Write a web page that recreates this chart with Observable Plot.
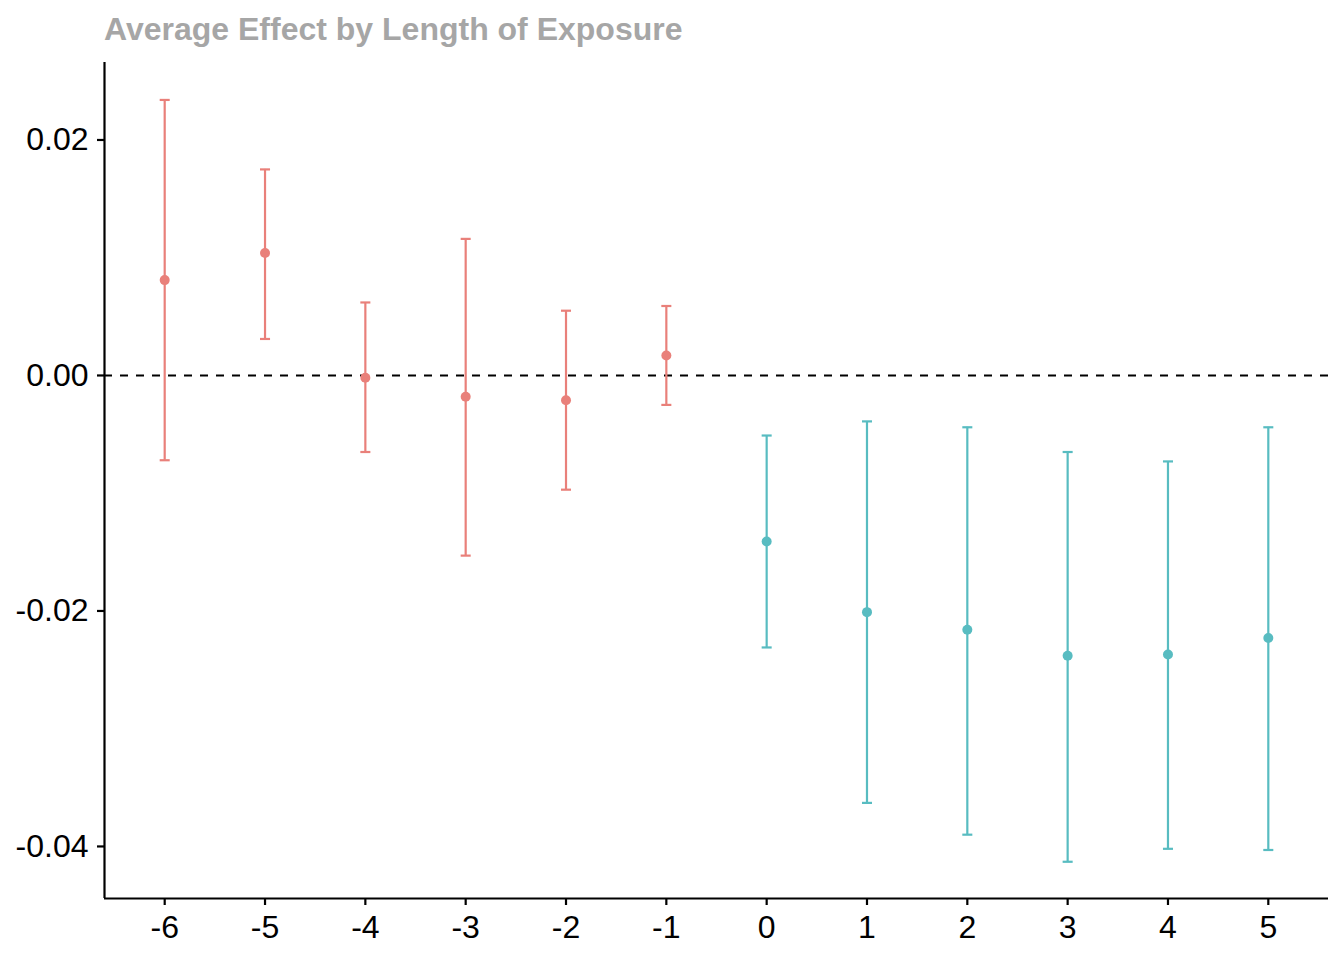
<!DOCTYPE html>
<html>
<head>
<meta charset="utf-8">
<script src="https://cdn.jsdelivr.net/npm/d3@7"></script>
<script src="https://cdn.jsdelivr.net/npm/@observablehq/plot@0.6"></script>
<style>
  html, body { margin: 0; padding: 0; background: #fff; }
  #title { height: 50px; box-sizing: border-box; padding-top: 13px; padding-left: 104px;
    font-family: "Liberation Sans", Arial, sans-serif; font-weight: bold; font-size: 32px;
    line-height: 32px; color: #A6A6A6; white-space: nowrap; }
</style>
</head>
<body>
<div id="title">Average Effect by Length of Exposure</div>
<div id="chart"></div>
<script>
const periods  = [-6, -5, -4, -3, -2, -1, 0, 1, 2, 3, 4, 5];
const estimate = [0.0081, 0.0104, -0.0002, -0.0018, -0.0021, 0.0017, -0.0141, -0.0201, -0.0216, -0.0238, -0.0237, -0.0223];
const upper    = [0.0234, 0.0175, 0.0062, 0.0116, 0.0055, 0.0059, -0.0051, -0.0039, -0.0044, -0.0065, -0.0073, -0.0044];
const lower    = [-0.0072, 0.0031, -0.0065, -0.0153, -0.0097, -0.0025, -0.0231, -0.0363, -0.0390, -0.0413, -0.0402, -0.0403];
const phase    = ["pre","pre","pre","pre","pre","pre","post","post","post","post","post","post"];
const xTicks = periods;
const yTicks = [-0.04, -0.02, 0, 0.02];
const xDomain = [-6.6, 5.6];
const yDomain = [-0.04442, 0.02658];
const capWidth = 0.1;
const colors = {pre: "#E9807A", post: "#58BCC1"};

const data = periods.map((p, i) => ({x: p, y: estimate[i], lo: lower[i], hi: upper[i], g: phase[i]}));

const chart = Plot.plot({
  width: 1344,
  height: 910,
  marginTop: 12,
  marginBottom: 62,
  marginLeft: 104,
  marginRight: 16,
  style: {fontFamily: "'Liberation Sans', Arial, sans-serif", fontSize: "32px", color: "black", background: "white"},
  x: {domain: xDomain},
  y: {domain: yDomain},
  marks: [
    Plot.ruleY([0], {stroke: "black", strokeWidth: 2, strokeDasharray: "8,8"}),
    Plot.ruleX(data, {x: "x", y1: "lo", y2: "hi", stroke: d => colors[d.g], strokeWidth: 2.2}),
    Plot.link(data, {x1: d => d.x - capWidth / 2, x2: d => d.x + capWidth / 2, y1: "hi", y2: "hi", stroke: d => colors[d.g], strokeWidth: 2.2}),
    Plot.link(data, {x1: d => d.x - capWidth / 2, x2: d => d.x + capWidth / 2, y1: "lo", y2: "lo", stroke: d => colors[d.g], strokeWidth: 2.2}),
    Plot.dot(data, {x: "x", y: "y", r: 5, fill: d => colors[d.g], stroke: "none"}),
    Plot.ruleX([xDomain[0]], {stroke: "black", strokeWidth: 2.2}),
    Plot.ruleY([yDomain[0]], {stroke: "black", strokeWidth: 2.2}),
    Plot.axisX(xTicks, {tickSize: 7, tickPadding: 10, tickFormat: d => String(d), label: null, color: "black", strokeWidth: 2.2, fontSize: 32}),
    Plot.axisY(yTicks, {tickSize: 7, tickPadding: 9, tickFormat: d => d.toFixed(2), label: null, color: "black", strokeWidth: 2.2, fontSize: 32})
  ]
});
document.getElementById("chart").appendChild(chart);
</script>
</body>
</html>
